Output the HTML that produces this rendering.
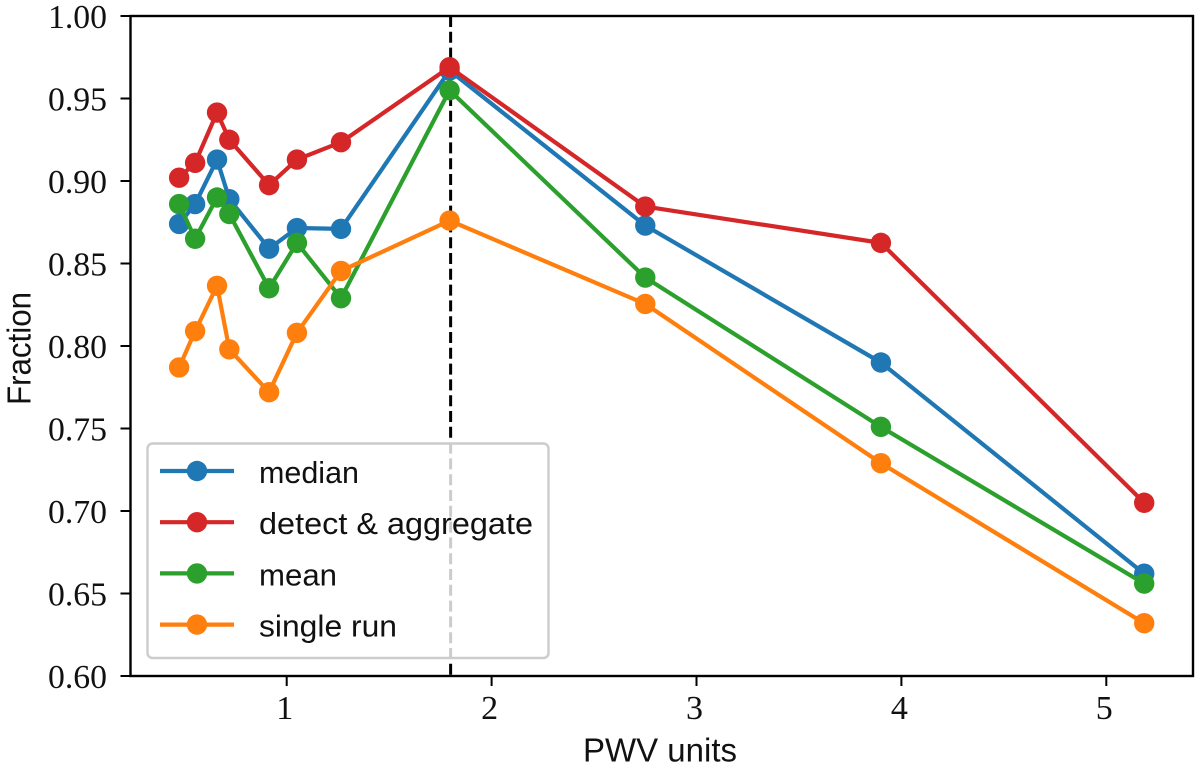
<!DOCTYPE html>
<html lang="en">
<head>
<meta charset="utf-8">
<title>Fraction vs PWV units</title>
<style>
html,body{margin:0;padding:0;background:#fff;width:1200px;height:768px;overflow:hidden}
svg{display:block}
.tick{font-family:"Liberation Serif",serif;font-size:34px;fill:#111}
.label{font-family:"Liberation Sans",sans-serif;font-size:33px;fill:#111}
.legend-text{font-family:"Liberation Sans",sans-serif;font-size:31px;fill:#111}
</style>
</head>
<body>
<svg id="chart" xmlns="http://www.w3.org/2000/svg" width="1200" height="768" viewBox="0 0 1200 768"></svg>
<script>
const pwvValues = [0.475, 0.553, 0.66, 0.72, 0.914, 1.05, 1.265, 1.795, 2.75, 3.9, 5.185];
const medianValues = [0.874, 0.886, 0.913, 0.889, 0.859, 0.8715, 0.871, 0.967, 0.873, 0.790, 0.662];
const detectValues = [0.902, 0.911, 0.9415, 0.925, 0.8975, 0.913, 0.9235, 0.969, 0.8845, 0.8625, 0.705];
const meanValues = [0.886, 0.865, 0.890, 0.880, 0.835, 0.8625, 0.829, 0.955, 0.8415, 0.751, 0.656];
const singleValues = [0.787, 0.809, 0.8365, 0.798, 0.772, 0.808, 0.8455, 0.876, 0.8255, 0.729, 0.632];
const seriesNames = ["median", "detect & aggregate", "mean", "single run"];
const xTicks = [1, 2, 3, 4, 5];
const yTicks = [0.60, 0.65, 0.70, 0.75, 0.80, 0.85, 0.90, 0.95, 1.00];
const referencePwv = 1.8;

const NS = "http://www.w3.org/2000/svg";
const svg = document.getElementById("chart");
const seriesValues = [medianValues, detectValues, meanValues, singleValues];
const seriesColors = ["#1f77b4", "#d62728", "#2ca02c", "#ff7f0e"];
const seriesKeys = ["median", "detect-aggregate", "mean", "single-run"];
const legendWidths = [100, 274, 78, 138];
const plot = { left: 130.5, right: 1193, top: 16, bottom: 676 };

function xScale(v) { return 286.7 + (v - 1) * 204.9; }
function yScale(v) { return plot.bottom - (v - 0.6) / 0.4 * (plot.bottom - plot.top); }
function make(tag, attrs, parent) {
  const el = document.createElementNS(NS, tag);
  for (const k in attrs) el.setAttribute(k, attrs[k]);
  (parent || svg).appendChild(el);
  return el;
}

const bg = make("rect", { x: plot.left, y: plot.top, width: plot.right - plot.left, height: plot.bottom - plot.top, fill: "#fff" });



const refLine = make("line", { x1: xScale(referencePwv), x2: xScale(referencePwv), y1: plot.top, y2: plot.bottom, stroke: "#000", "stroke-width": 3, "stroke-dasharray": "11 4.8" });



seriesValues.forEach(function (vals, s) {
  const g = make("g", {});
  
  
  const pts = vals.map(function (v, i) { return xScale(pwvValues[i]).toFixed(2) + "," + yScale(v).toFixed(2); }).join(" ");
  const line = make("polyline", { points: pts, fill: "none", stroke: seriesColors[s], "stroke-width": 4.2, "stroke-linejoin": "round" }, g);
  
  
  vals.forEach(function (v, i) {
    const c = make("circle", { cx: xScale(pwvValues[i]), cy: yScale(v), r: 10.2, fill: seriesColors[s] }, g);
    
    
  });
});

const frame = make("rect", { x: plot.left, y: plot.top, width: plot.right - plot.left, height: plot.bottom - plot.top, fill: "none", stroke: "#000", "stroke-width": 2.4 });



yTicks.forEach(function (t) {
  const y = yScale(t);
  const mark = make("line", { x1: plot.left - 10, x2: plot.left, y1: y, y2: y, stroke: "#000", "stroke-width": 2 });
  
  
  const label = make("text", { x: 48, y: y + 12, class: "tick", textLength: 59, lengthAdjust: "spacingAndGlyphs" });
  label.textContent = t.toFixed(2);
  
  
});

xTicks.forEach(function (t) {
  const x = xScale(t);
  const mark = make("line", { x1: x, x2: x, y1: plot.bottom, y2: plot.bottom + 10, stroke: "#000", "stroke-width": 2 });
  
  
  const label = make("text", { x: x - 2, y: 719, class: "tick", "text-anchor": "middle" });
  label.textContent = String(t);
  
  
});

const legend = make("g", {});


const legendBox = make("rect", { x: 147.5, y: 443.5, width: 401, height: 214.5, rx: 5, ry: 5, fill: "#fff", "fill-opacity": 0.8, stroke: "#cccccc", "stroke-width": 2.4 }, legend);


seriesNames.forEach(function (name, i) {
  const y = 471 + i * 51.2;
  const entry = make("g", {}, legend);
  
  
  const ln = make("line", { x1: 160, x2: 234, y1: y, y2: y, stroke: seriesColors[i], "stroke-width": 4.2 }, entry);
  
  
  const dot = make("circle", { cx: 197, cy: y, r: 10.2, fill: seriesColors[i] }, entry);
  
  
  const text = make("text", { x: 259, y: y + 12, class: "legend-text", textLength: legendWidths[i], lengthAdjust: "spacingAndGlyphs" }, entry);
  text.textContent = name;
  
  
});

const xTitle = make("text", { x: 583, y: 761.5, class: "label", textLength: 154, lengthAdjust: "spacingAndGlyphs" });
xTitle.textContent = "PWV units";



const yTitle = make("text", { x: 0, y: 0, class: "label", textLength: 113, lengthAdjust: "spacingAndGlyphs", transform: "translate(30.5 405) rotate(-90)" });
yTitle.textContent = "Fraction";


</script>
</body>
</html>
